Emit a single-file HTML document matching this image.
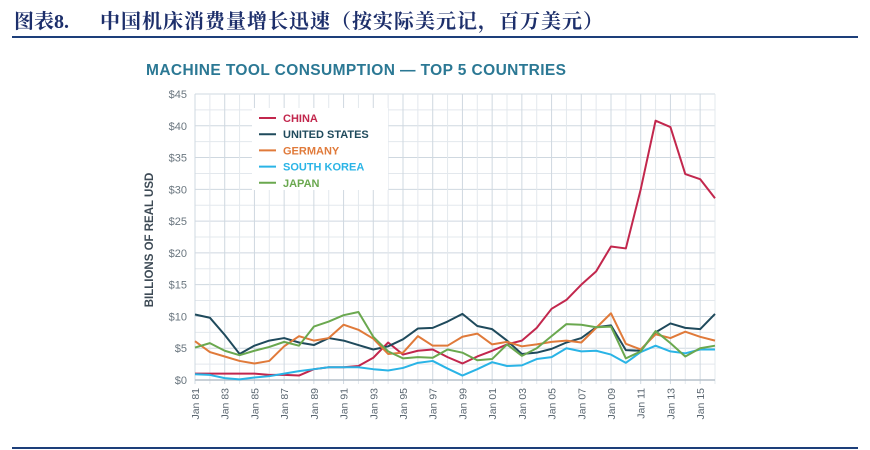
<!DOCTYPE html>
<html><head><meta charset="utf-8">
<style>
body{margin:0;background:#fff;width:870px;height:450px;overflow:hidden;font-family:"Liberation Sans","Noto Sans CJK SC",sans-serif;}
#hdr{position:absolute;left:14px;top:5px;font-family:"Liberation Serif","Noto Serif CJK SC",serif;font-weight:bold;font-size:20px;color:#1d2f6b;white-space:nowrap;}
#hdr span{position:absolute;left:86px;top:0;letter-spacing:1px;}
.rule{position:absolute;left:12px;width:846px;background:#1d3f7a;}
</style></head><body>
<div id="hdr">图表8.<span>中国机床消费量增长迅速（按实际美元记，百万美元）</span></div>
<div class="rule" style="top:36px;height:2px"></div>
<div class="rule" style="top:447px;height:2px"></div>
<svg id="chart" width="870" height="450" style="position:absolute;left:0;top:0"></svg>
<script>
const years=[];for(let y=1981;y<=2016;y++)years.push(y);
const china=[1,1,1,1,1,0.8,0.8,0.7,1.7,2,2,2.2,3.5,5.9,4,4.6,4.8,3.6,2.6,3.7,4.6,5.6,6.2,8.2,11.2,12.6,15,17.1,21,20.7,30,40.8,39.8,32.4,31.6,28.6];
const us=[10.3,9.8,7.1,4.1,5.4,6.2,6.6,5.9,5.5,6.6,6.2,5.5,4.8,5.3,6.4,8.1,8.2,9.2,10.4,8.5,8.0,6.2,4.1,4.3,4.9,5.9,6.6,8.3,8.6,4.7,4.6,7.5,8.9,8.2,8.0,10.4];
const germany=[6.1,4.4,3.7,3.0,2.6,3.0,5.3,6.9,6.2,6.6,8.7,7.9,6.5,4.1,4.3,6.9,5.4,5.4,6.8,7.3,5.6,6.0,5.3,5.6,6.0,6.2,5.9,8.2,10.5,5.7,4.8,7.2,6.6,7.6,6.8,6.2];
const korea=[0.9,0.8,0.3,0.1,0.4,0.6,1.0,1.4,1.7,2.0,2.0,2.0,1.7,1.5,1.9,2.7,3.0,1.8,0.7,1.7,2.8,2.2,2.3,3.3,3.6,5.0,4.5,4.6,4.0,2.7,4.4,5.4,4.5,4.2,4.8,4.8];
const japan=[5.1,5.8,4.6,3.9,4.6,5.2,6.0,5.4,8.4,9.2,10.2,10.7,6.8,4.5,3.4,3.6,3.5,4.8,4.3,3.1,3.3,5.6,3.8,5.0,6.9,8.8,8.7,8.3,8.4,3.4,4.5,7.7,5.8,3.7,5.0,5.4];
const yTicks=[0,5,10,15,20,25,30,35,40,45];
const seriesNames=["CHINA","UNITED STATES","GERMANY","SOUTH KOREA","JAPAN"];
const seriesData=[china,us,germany,korea,japan];
const colors=["#c2274d","#1f4a5c","#e07a3a","#2ab4e6","#6aa84f"];

const svg=document.getElementById('chart');const NS="http://www.w3.org/2000/svg";
const X0=195,X1=715,Y0=380,Y1=94;
const xs=y=>X0+(y-1981)*(X1-X0)/35;
const ys=v=>Y0-v*(Y0-Y1)/45;
function mk(t,a,p){const e=document.createElementNS(NS,t);for(const k in a)e.setAttribute(k,a[k]);(p||svg).appendChild(e);return e;}
for(let v=0;v<=45;v+=2.5){const g=mk('line',{x1:X0,x2:X1,y1:ys(v),y2:ys(v),stroke:v%5===0?'#cfd8e0':'#e3e8ed','stroke-width':1});

}
for(const y of years){const g=mk('line',{x1:xs(y),x2:xs(y),y1:Y1,y2:Y0+4,stroke:(y%2===1)?'#cfd8e0':'#e3e8ed','stroke-width':1});

}
const ax=mk('line',{x1:X0,x2:X1,y1:Y0,y2:Y0,stroke:'#b5c0ca','stroke-width':1.5});


for(const v of yTicks){const t=mk('text',{x:187,y:ys(v)+4,'text-anchor':'end','font-size':11,fill:'#6a767f'});t.textContent='$'+v;

}
for(const y of years){if(y%2===0)continue;const x=xs(y);const t=mk('text',{x:0,y:0,transform:`translate(${x+4},388) rotate(-90)`,'text-anchor':'end','font-size':10.5,fill:'#5a6670'});t.textContent='Jan '+String(y).slice(2);

}
const yt=mk('text',{x:0,y:0,transform:'translate(153,240) rotate(-90)','text-anchor':'middle','font-size':11.5,'font-weight':'bold',fill:'#3d4a55'});yt.textContent='BILLIONS OF REAL USD';


const ct=mk('text',{x:146,y:75,'font-size':15.5,'font-weight':'bold',fill:'#2b7894',textLength:420});ct.textContent='MACHINE TOOL CONSUMPTION — TOP 5 COUNTRIES';


seriesData.forEach((d,i)=>{const p=mk('polyline',{points:d.map((v,j)=>xs(years[j])+','+ys(v)).join(' '),fill:'none',stroke:colors[i],'stroke-width':2,'stroke-linejoin':'round'});

});
const lb=mk('rect',{x:252,y:108,width:136,height:82,fill:'#fff'});


seriesNames.forEach((n,i)=>{const y=118+i*16.2;
const l=mk('line',{x1:259,x2:276,y1:y,y2:y,stroke:colors[i],'stroke-width':2});


const t=mk('text',{x:283,y:y+4,'font-size':11,'font-weight':'bold',fill:colors[i]});t.textContent=n;

});
</script>
</body></html>
